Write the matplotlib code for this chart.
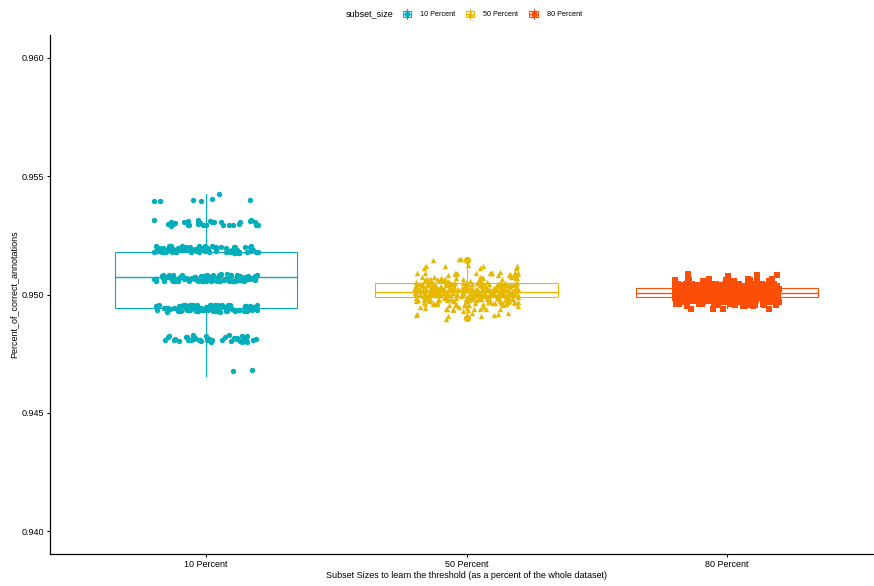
import numpy as np
import matplotlib
matplotlib.use("Agg")
import matplotlib.pyplot as plt
from matplotlib.legend_handler import HandlerBase
from matplotlib.patches import Rectangle
from matplotlib.lines import Line2D

plt.rcParams['font.family'] = ['Liberation Sans', 'DejaVu Sans']

groups = ['10 Percent', '50 Percent', '80 Percent']
colors = ['#00AFBB', '#E7B800', '#FC4E07']
markers = ['o', '^', 's']

# jittered runs: distinct values and how many runs landed on each
g10_values = [0.95410, 0.95300, 0.95192, 0.95070, 0.94943, 0.94813, 0.94665]
g10_counts = [7, 32, 95, 100, 95, 40, 2]
g50_values = [0.95146, 0.95116, 0.95087, 0.95066, 0.95044, 0.95023,
              0.95002, 0.94981, 0.94960, 0.94939, 0.94918, 0.94901]
g50_counts = [4, 8, 20, 30, 60, 80, 80, 50, 30, 15, 8, 2]
g80_values = [0.95082, 0.95061, 0.95040, 0.95023, 0.95006,
              0.94989, 0.94972, 0.94956, 0.94939]
g80_counts = [4, 15, 50, 90, 100, 90, 50, 20, 4]

# box stats
q1 = [0.94943, 0.94991, 0.94988]
med = [0.95074, 0.95012, 0.95008]
q3 = [0.95180, 0.95047, 0.95026]
whis_lo = [0.94657, 0.94913, 0.94943]
whis_hi = [0.95425, 0.95131, 0.95078]
outliers = [[], [0.95146, 0.94901], []]


class BoxKey(HandlerBase):
    # ggplot style legend key: little boxplot with the point shape inside
    def create_artists(self, legend, orig_handle, xdescent, ydescent,
                       width, height, fontsize, trans):
        c = orig_handle.get_color()
        m = orig_handle.get_marker()
        x0, y0 = -xdescent, -ydescent
        cx, cy = x0 + width / 2, y0 + height / 2
        bw, bh = width * 0.8, height * 0.55
        rect = Rectangle((cx - bw / 2, cy - bh / 2), bw, bh, fill=False,
                         edgecolor=c, lw=0.8, transform=trans)
        wh1 = Line2D([cx, cx], [y0, cy - bh / 2], color=c, lw=0.8, transform=trans)
        wh2 = Line2D([cx, cx], [cy + bh / 2, y0 + height], color=c, lw=0.8, transform=trans)
        md = Line2D([cx - bw / 2, cx + bw / 2], [cy, cy], color=c, lw=0.8, transform=trans)
        pt = Line2D([cx], [cy], marker=m, color=c, markersize=3, lw=0, transform=trans)
        return [rect, wh1, wh2, md, pt]


def scramble(k, a, b):
    # cheap deterministic hash in [0, 1) used only to scatter the jitter
    v = np.sin(k * a + b) * 43758.5453
    return v - np.floor(v)


fig = plt.figure(figsize=(8.74, 5.86), dpi=100)
ax = fig.add_axes([50 / 874, 32 / 586, 833 / 874, 519 / 586])

stats = []
for i in range(3):
    stats.append(dict(med=med[i], q1=q1[i], q3=q3[i], whislo=whis_lo[i],
                      whishi=whis_hi[i], fliers=outliers[i]))

for i in range(3):
    ax.bxp([stats[i]], positions=[i + 1], widths=0.7, showcaps=False,
           patch_artist=True,
           boxprops=dict(facecolor='white', edgecolor=colors[i], lw=0.8),
           whiskerprops=dict(color=colors[i], lw=0.8),
           medianprops=dict(color=colors[i], lw=1.0),
           flierprops=dict(marker='o', markerfacecolor=colors[i],
                           markeredgecolor=colors[i], markersize=4.2),
           zorder=1)

point_sets = [(g10_values, g10_counts), (g50_values, g50_counts), (g80_values, g80_counts)]
y_jit = [0.00015, 0.00008, 0.00006]
sizes = [15, 15, 15]
for gi, (vals, cnts) in enumerate(point_sets):
    y = np.repeat(vals, cnts)
    k = np.arange(len(y), dtype=float)
    # jitter width 0.2 like ggpubr, small height jitter
    dx = (scramble(k, 12.9898, gi * 3.1) - 0.5) * 0.4
    dy = (scramble(k, 78.233, gi * 1.7) - 0.5) * 2 * y_jit[gi]
    ax.scatter(gi + 1 + dx, y + dy, s=sizes[gi], marker=markers[gi],
               color=colors[gi], linewidths=0, zorder=3)

ax.set_xlim(0.4, 3.6)
ax.set_ylim(0.93903, 0.96097)
ax.set_xticks([1, 2, 3])
ax.set_xticklabels(groups)
ax.set_yticks([0.940, 0.945, 0.950, 0.955, 0.960])
ax.set_yticklabels(['0.940', '0.945', '0.950', '0.955', '0.960'])
ax.tick_params(labelsize=6.5, length=2.5, width=0.75, colors='black', pad=2)
for s in ['top', 'right']:
    ax.spines[s].set_visible(False)
for s in ['left', 'bottom']:
    ax.spines[s].set_linewidth(0.9)

ax.set_xlabel('Subset Sizes to learn the threshold (as a percent of the whole dataset)',
              fontsize=6.5, labelpad=1)
ax.set_ylabel('Percent_of_correct_annotations', fontsize=6.5, labelpad=2)

handles = [Line2D([], [], color=colors[i], marker=markers[i], linestyle='none') for i in range(3)]
fig.text(393 / 874, 1 - 14 / 586, 'subset_size', ha='right', va='center', fontsize=6.5)
fig.legend(handles, groups, handler_map={Line2D: BoxKey()}, loc='center left',
           bbox_to_anchor=(402 / 874, 1 - 14 / 586), ncol=3, frameon=False,
           fontsize=5.2, handlelength=1.4, handleheight=1.8, handletextpad=1.1,
           columnspacing=1.4, borderpad=0, borderaxespad=0)

fig.savefig('out.png', dpi=100)
